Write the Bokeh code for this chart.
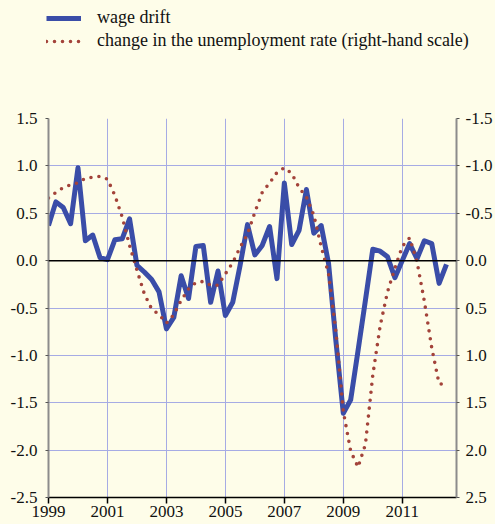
from bokeh.plotting import figure
from bokeh.models import (Range1d, LinearAxis, FixedTicker, PrintfTickFormatter,
                          Span, Legend, LegendItem)
from bokeh.embed import file_html
from bokeh.resources import INLINE

# quarterly observations 1999Q1 .. 2012Q3
first_year = 1999
n_quarters = 55
dates = [first_year + q / 4 for q in range(n_quarters)]

wage_drift = [0.37, 0.62, 0.56, 0.39, 0.98, 0.21, 0.27, 0.03, 0.01, 0.22,
              0.23, 0.44, -0.05, -0.12, -0.20, -0.33, -0.72, -0.60, -0.16, -0.40,
              0.15, 0.16, -0.44, -0.11, -0.58, -0.44, -0.05, 0.38, 0.06, 0.16,
              0.36, -0.19, 0.82, 0.17, 0.32, 0.75, 0.29, 0.37, -0.03, -0.85,
              -1.61, -1.47, -0.95, -0.42, 0.12, 0.10, 0.04, -0.18, 0.00, 0.18,
              0.02, 0.21, 0.18, -0.24, -0.04]

# right-hand (inverted) scale
unemp_change = [-0.66, -0.72, -0.77, -0.80, -0.82, -0.87, -0.88, -0.89, -0.86, -0.69,
                -0.46, -0.16, 0.10, 0.35, 0.51, 0.57, 0.66, 0.57, 0.42, 0.30,
                0.23, 0.22, 0.26, 0.26, 0.14, 0.02, -0.14, -0.28, -0.51, -0.72,
                -0.82, -0.93, -0.98, -0.92, -0.77, -0.67, -0.48, -0.15, 0.14, 0.75,
                1.59, 2.01, 2.18, 1.94, 1.21, 0.69, 0.33, 0.08, -0.15, -0.24,
                0.01, 0.43, 0.92, 1.30, 1.31]

x_ticks = [1999, 2001, 2003, 2005, 2007, 2009, 2011]
left_ticks = [-2.5, -2.0, -1.5, -1.0, -0.5, 0.0, 0.5, 1.0, 1.5]
right_ticks = [-1.5, -1.0, -0.5, 0.0, 0.5, 1.0, 1.5, 2.0, 2.5]
series_names = ["wage drift", "change in the unemployment rate (right-hand scale)"]

BG = "#FEFDE9"
BLUE = "#3A4DA8"
RED = "#A3433A"
GRID = "#A6ABE4"
FONT = "'Liberation Serif', 'Times New Roman', serif"

blue_style = dict(line_color=BLUE, line_width=5, line_join="round")
red_style = dict(line_color=RED, line_width=3.6, line_dash="0 8", line_cap="round")

# ---------------- legend strip (own root, so its frame is the whole strip) ----
LEG_H = 60
leg = figure(width=495, height=LEG_H, output_backend="svg", toolbar_location=None,
             x_range=Range1d(0, 1), y_range=Range1d(0, 1),
             min_border_left=0, min_border_right=0, min_border_top=0,
             min_border_bottom=0)
leg.axis.visible = False
leg.grid.visible = False
leg.outline_line_color = None
leg.background_fill_color = BG
leg.border_fill_color = BG
# the series themselves, lying outside this strip's ranges: only their legend keys show
k1 = leg.line(dates, wage_drift, **blue_style)
k2 = leg.line(dates, unemp_change, **red_style)
legend = Legend(items=[LegendItem(label=series_names[0], renderers=[k1]),
                       LegendItem(label=series_names[1], renderers=[k2])],
                location=(46, 9), orientation="vertical", padding=0, spacing=2,
                margin=0, glyph_width=35, glyph_height=20, label_height=20,
                label_standoff=16, label_text_font=FONT, label_text_font_size="18px",
                label_text_color="#111111", border_line_color=None,
                background_fill_alpha=0)
leg.add_layout(legend, "center")

# ---------------- main chart ----------------
p = figure(width=495, height=524 - LEG_H, output_backend="svg", toolbar_location=None,
           x_range=Range1d(1999, 2012.84), y_range=Range1d(-2.5, 1.5),
           min_border_left=48, min_border_right=39, min_border_top=118 - LEG_H,
           min_border_bottom=27)
p.extra_y_ranges = {"right": Range1d(start=2.5, end=-1.5)}
p.background_fill_color = BG
p.border_fill_color = BG
p.outline_line_color = None

p.xgrid.ticker = FixedTicker(ticks=x_ticks[1:])
p.ygrid.ticker = FixedTicker(ticks=left_ticks[1:])
p.xgrid.grid_line_color = GRID
p.ygrid.grid_line_color = GRID
p.xgrid.grid_line_width = 1
p.ygrid.grid_line_width = 1

xa = p.xaxis[0]
xa.ticker = FixedTicker(ticks=x_ticks)
xa.formatter = PrintfTickFormatter(format="%d")
xa.major_tick_in = 0
xa.major_tick_out = 6
xa.minor_tick_line_color = None
xa.axis_line_color = "black"
xa.axis_line_width = 1.5
xa.major_tick_line_color = "black"
xa.major_tick_line_width = 1.5
xa.major_label_text_font = FONT
xa.major_label_text_font_size = "17px"
xa.major_label_text_color = "#111111"
xa.major_label_standoff = 2

ya = p.yaxis[0]
ya.ticker = FixedTicker(ticks=left_ticks)
ya.formatter = PrintfTickFormatter(format="%.1f")
ya.major_tick_in = 0
ya.major_tick_out = 3
ya.minor_tick_line_color = None
ya.axis_line_color = "#8C8C8C"
ya.axis_line_width = 2
ya.major_tick_line_color = "#555555"
ya.major_label_text_font = FONT
ya.major_label_text_font_size = "17px"
ya.major_label_text_color = "#111111"
ya.major_label_standoff = 8

ra = LinearAxis(y_range_name="right", ticker=FixedTicker(ticks=right_ticks),
                formatter=PrintfTickFormatter(format="%.1f"))
ra.major_tick_in = 0
ra.major_tick_out = 3
ra.minor_tick_line_color = None
ra.axis_line_color = "#8C8C8C"
ra.axis_line_width = 2
ra.major_tick_line_color = "#555555"
ra.major_label_text_font = FONT
ra.major_label_text_font_size = "17px"
ra.major_label_text_color = "#111111"
ra.major_label_standoff = 6
p.add_layout(ra, "right")

p.add_layout(Span(location=0, dimension="width", line_color="black", line_width=1.5))

p.line(dates, wage_drift, **blue_style)
p.line(dates, unemp_change, y_range_name="right", **red_style)

html = file_html([leg, p], INLINE)
html = html.replace("</head>", "<style>html,body{background:%s;}</style></head>" % BG, 1)
open("out.html", "w").write(html)
